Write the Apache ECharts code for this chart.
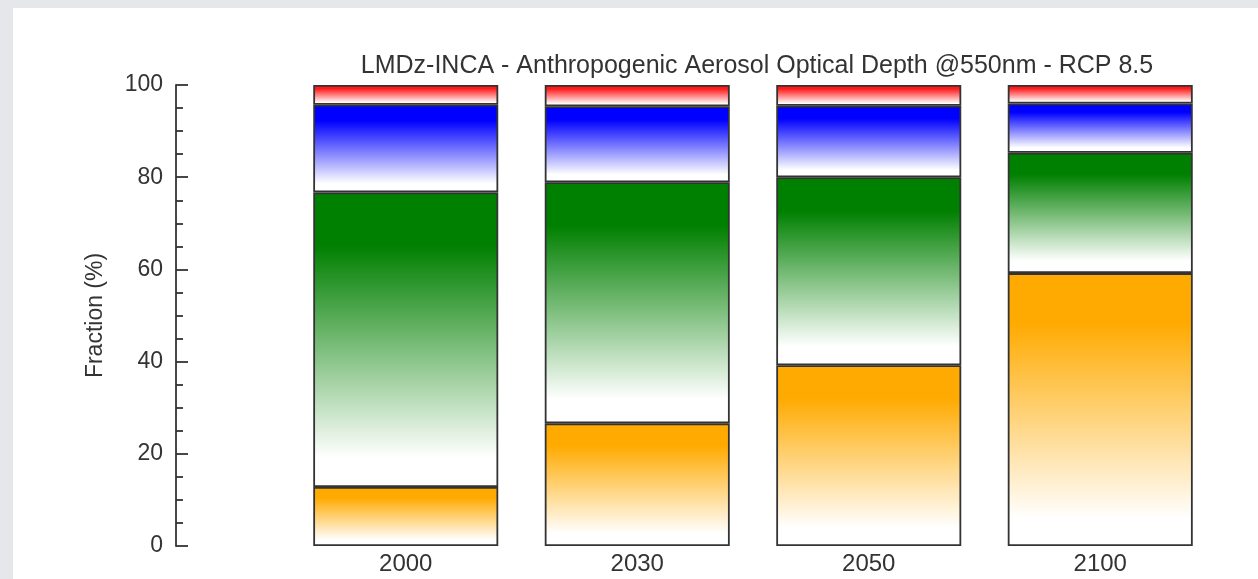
<!DOCTYPE html>
<html>
<head>
<meta charset="utf-8">
<style>
  html, body { margin: 0; padding: 0; background: #e5e7eb; }
  #chart { width: 1258px; height: 579px; }
</style>
<script src="https://cdn.jsdelivr.net/npm/echarts@6/dist/echarts.min.js"></script>
</head>
<body>
<div id="chart"></div>
<script>
// Scenario years
const years = ['2000', '2030', '2050', '2100'];
// Fraction (%) of anthropogenic AOD per component, stacked bottom to top
const orangeShare = [12.8, 26.6, 39.2, 59.2];
const greenShare  = [63.9, 52.3, 40.8, 26.1];
const blueShare   = [19.0, 16.5, 15.5, 10.7];
const redShare    = [4.3, 4.6, 4.5, 4.0];
// Y axis range and step
const yMin = 0, yMax = 100, yStep = 20;

const chart = echarts.init(document.getElementById('chart'));

// Each segment fades from its full colour at the top to white at the bottom
function fade(color) {
  return new echarts.graphic.LinearGradient(0, 0, 0, 1, [
    { offset: 0, color: color },
    { offset: 0.18, color: color },
    { offset: 0.9, color: '#ffffff' },
    { offset: 1, color: '#ffffff' }
  ]);
}

function segment(name, data, color) {
  return {
    name: name,
    type: 'bar',
    stack: 'aod',
    barWidth: 185,
    data: data,
    itemStyle: { color: fade(color), borderColor: '#333333', borderWidth: 1.8 },
    emphasis: { disabled: true }
  };
}

const font = 'Liberation Sans';

chart.setOption({
  backgroundColor: '#e5e7eb',
  animation: false,
  graphic: [{
    type: 'rect', z: -10, silent: true,
    shape: { x: 13, y: 8, width: 1245, height: 571 },
    style: { fill: '#ffffff' }
  }],
  title: {
    text: 'LMDz-INCA - Anthropogenic Aerosol Optical Depth @550nm - RCP 8.5',
    left: 752, top: 49, textAlign: 'center',
    textStyle: { fontFamily: font, fontSize: 25, fontWeight: 'normal', color: '#333333' }
  },
  grid: { left: 290, right: 42, top: 85, bottom: 33 },
  xAxis: {
    type: 'category',
    data: years,
    axisLine: { show: false },
    axisTick: { show: false },
    axisLabel: { fontFamily: font, fontSize: 24, color: '#333333', margin: 6 }
  },
  yAxis: {
    type: 'value',
    min: yMin, max: yMax, interval: yStep,
    offset: 114,
    name: 'Fraction (%)',
    nameLocation: 'middle',
    nameGap: 69,
    nameTextStyle: { fontFamily: font, fontSize: 23, color: '#333333' },
    axisLine: { show: true, lineStyle: { color: '#333333', width: 1.8 } },
    axisTick: { show: true, inside: true, length: 12, lineStyle: { color: '#333333', width: 1.8 } },
    minorTick: { show: true, splitNumber: 4, length: 7, lineStyle: { color: '#333333', width: 1.8 } },
    splitLine: { show: false },
    axisLabel: { fontFamily: font, fontSize: 23, color: '#333333', margin: 13 }
  },
  series: [
    segment('orange', orangeShare, '#ffaa00'),
    segment('green', greenShare, '#008000'),
    segment('blue', blueShare, '#0000ff'),
    segment('red', redShare, '#ff1a1a')
  ]
});
</script>
</body>
</html>
